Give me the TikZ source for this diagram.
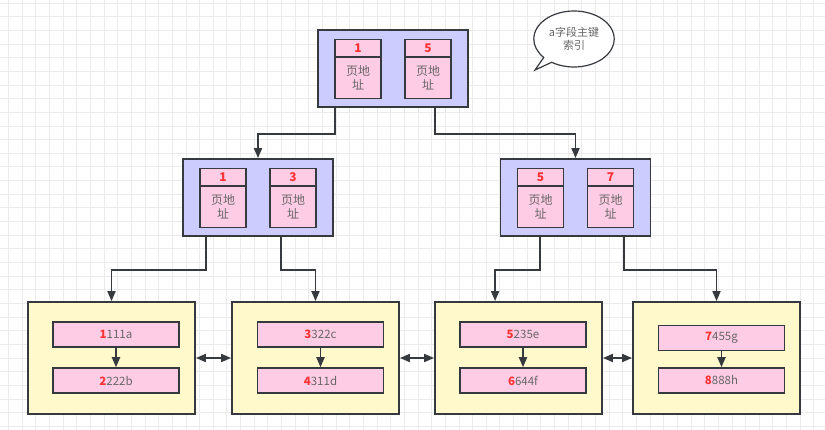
\documentclass[tikz,border=0pt]{standalone}
\usepackage{fontspec}
\setmainfont{Noto Sans CJK SC}
\usetikzlibrary{arrows.meta,shapes.callouts,calc}
\definecolor{idxfill}{HTML}{CCCCFF}
\definecolor{cellfill}{HTML}{FFCCE6}
\definecolor{leaffill}{HTML}{FFF9CC}
\definecolor{edgec}{HTML}{36393D}
\definecolor{numred}{HTML}{FF3333}
\definecolor{txt}{HTML}{666666}
\definecolor{gridc}{HTML}{EBEBEB}
\newcommand\redn[1]{{\color{numred}\bfseries #1}}
\begin{document}
\begin{tikzpicture}[x=1pt,y=-1pt,
 idxbox/.style={draw=edgec,fill=idxfill,line width=1.8pt,minimum width=150pt,minimum height=77pt,inner sep=0pt},
 cellhead/.style={draw=edgec,fill=cellfill,line width=1.5pt,minimum width=46pt,minimum height=17.5pt,inner sep=0pt,font=\fontsize{12}{14}\selectfont\bfseries,text=numred},
 cellbody/.style={draw=edgec,fill=cellfill,line width=1.5pt,minimum width=46pt,minimum height=41.5pt,inner sep=0pt,align=center,font=\fontsize{12}{14}\selectfont,text=txt},
 leafbox/.style={draw=edgec,fill=leaffill,line width=1.8pt,minimum width=167pt,minimum height=112pt,inner sep=0pt},
 rowbox/.style={draw=edgec,fill=cellfill,line width=1.5pt,minimum width=126pt,minimum height=25pt,inner sep=0pt,font=\fontsize{11.5}{14}\selectfont,text=txt},
 conn/.style={draw=edgec,line width=1.8pt,-{Triangle[length=10pt,width=8pt]}},
 dconn/.style={draw=edgec,line width=1.8pt,{Triangle[length=10pt,width=8pt]}-{Triangle[length=10pt,width=8pt]}},
]
\useasboundingbox (0,0) rectangle (825,430);
\fill[white] (0,0) rectangle (825,430);
\foreach \i in {0,...,60} \draw[gridc,line width=0.8pt] ({8.45+\i*13.65},0) -- ++(0,430);
\foreach \i in {0,...,31} \draw[gridc,line width=0.8pt] (0,{3.1+\i*13.65}) -- ++(825,0);

% index nodes
\node[idxbox] (top) at (393,68.5) {};
\node[idxbox] (ml) at (258,197.5) {};
\node[idxbox] (mr) at (575.5,197.5) {};

\node[cellhead] (th1) at ($(top.north)+(-35,19.25)$) {1};
\node[cellbody] (tb1) at ($(top.north)+(-35,48.75)$) {页地\\址};
\node[cellhead] (th2) at ($(top.north)+(35,19.25)$) {5};
\node[cellbody] (tb2) at ($(top.north)+(35,48.75)$) {页地\\址};

\node[cellhead] (lh1) at ($(ml.north)+(-35,19.25)$) {1};
\node[cellbody] (lb1) at ($(ml.north)+(-35,48.75)$) {页地\\址};
\node[cellhead] (lh2) at ($(ml.north)+(35,19.25)$) {3};
\node[cellbody] (lb2) at ($(ml.north)+(35,48.75)$) {页地\\址};

\node[cellhead] (rh1) at ($(mr.north)+(-35,19.25)$) {5};
\node[cellbody] (rb1) at ($(mr.north)+(-35,48.75)$) {页地\\址};
\node[cellhead] (rh2) at ($(mr.north)+(35,19.25)$) {7};
\node[cellbody] (rb2) at ($(mr.north)+(35,48.75)$) {页地\\址};

% leaves
\node[leafbox] (l1) at (111.5,358) {};
\node[leafbox] (l2) at (315.5,358) {};
\node[leafbox] (l3) at (518.5,358) {};
\node[leafbox] (l4) at (716.5,358) {};

\node[rowbox] (r1) at (116,334.5) {\redn{1}111a};
\node[rowbox] (r2) at (116,380.5) {\redn{2}222b};
\node[rowbox] (r3) at (320.5,334.5) {\redn{3}322c};
\node[rowbox] (r4) at (320.5,380.5) {\redn{4}311d};
\node[rowbox] (r5) at (523,334.5) {\redn{5}235e};
\node[rowbox] (r6) at (523,380.5) {\redn{6}644f};
\node[rowbox] (r7) at (721.5,338) {\redn{7}455g};
\node[rowbox] (r8) at (721.5,380.5) {\redn{8}888h};

\draw[conn] (r1) -- (r2);
\draw[conn] (r3) -- (r4);
\draw[conn] (r5) -- (r6);
\draw[conn] (r7) -- (r8);

\draw[dconn] (l1.east) -- (l2.west);
\draw[dconn] (l2.east) -- (l3.west);
\draw[dconn] (l3.east) -- (l4.west);

% tree connectors
\draw[conn] ($(top.south west)+(18,0)$) -- ++(0,26) -| (ml.north);
\draw[conn] ($(top.south west)+(118,0)$) -- ++(0,26) -| (mr.north);
\draw[conn] ($(ml.south west)+(24,0)$) -- ++(0,33) -| (l1.north);
\draw[conn] ($(ml.south west)+(99,0)$) -- ++(0,33) -| (l2.north);
\coordinate (l3in) at ($(l3.north west)+(61,0)$);
\draw[conn] ($(mr.south west)+(40,0)$) -- ++(0,33) -| (l3in);
\draw[conn] ($(mr.south west)+(124,0)$) -- ++(0,33) -| (l4.north);

% note bubble
\node[ellipse callout,draw=edgec,fill=white,line width=1.2pt,minimum width=78pt,minimum height=56pt,
      callout absolute pointer={(535,70)},align=center,font=\fontsize{11}{13}\selectfont,text=txt]
      (note) at (574,39) {a字段主键\\索引};
\end{tikzpicture}
\end{document}
